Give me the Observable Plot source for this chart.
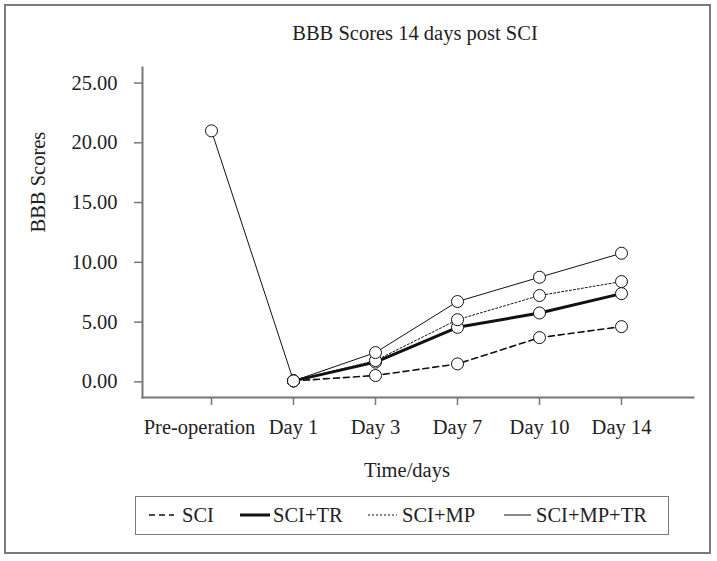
<!DOCTYPE html>
<html>
<head>
<meta charset="utf-8">
<script src="https://cdn.jsdelivr.net/npm/d3@7"></script>
<script src="https://cdn.jsdelivr.net/npm/@observablehq/plot@0.6"></script>
<style>
  html, body { margin: 0; padding: 0; background: #fff; }
  #wrap { position: relative; width: 717px; height: 561px; font-family: "Liberation Serif", "DejaVu Serif", serif; color: #222; }
  #border { position: absolute; left: 4px; top: 4px; width: 707px; height: 550px; border: 2px solid #7a7a7a; box-sizing: border-box; }
  #title { position: absolute; left: 0; width: 830px; top: 20px; text-align: center; font-size: 20.5px; line-height: 26px; }
  #chart { position: absolute; left: 0; top: 0; }
  #legend { position: absolute; left: 135px; top: 496px; width: 534px; height: 39px; border: 1.5px solid #7a7a7a; box-sizing: border-box; }
  .lg-item { position: absolute; top: 0; height: 36px; font-size: 20.5px; line-height: 36px; white-space: nowrap; }
</style>
</head>
<body>
<div id="wrap">
  <div id="border"></div>
  <div id="title"></div>
  <div id="chart"></div>
  <div id="legend"></div>
</div>
<script>
// ---- data ----
const title = "BBB Scores 14 days post SCI";
const yLabel = "BBB Scores";
const xLabel = "Time/days";
const categories = ["Pre-operation", "Day 1", "Day 3", "Day 7", "Day 10", "Day 14"];
const yTicks = [0, 5, 10, 15, 20, 25];
const seriesNames = ["SCI", "SCI+TR", "SCI+MP", "SCI+MP+TR"];
const preOperation = 21.0;           // pre-operation score (drawn with SCI+MP+TR)
const sci      = [0.08, 0.53, 1.50, 3.70, 4.62];
const sciTR    = [0.08, 1.65, 4.56, 5.76, 7.38];
const sciMP    = [0.08, 1.78, 5.20, 7.22, 8.39];
const sciMPTR  = [0.08, 2.45, 6.72, 8.75, 10.76];

// ---- styles ----
const styles = {
  "SCI":       {strokeWidth: 1.6, dash: "6,4"},
  "SCI+TR":    {strokeWidth: 3,   dash: null},
  "SCI+MP":    {strokeWidth: 1,   dash: "2,2"},
  "SCI+MP+TR": {strokeWidth: 1,   dash: null}
};

const valuesBySeries = {"SCI": sci, "SCI+TR": sciTR, "SCI+MP": sciMP, "SCI+MP+TR": sciMPTR};
const rows = [];
for (const s of seriesNames) {
  if (s === "SCI+MP+TR") rows.push({series: s, day: categories[0], value: preOperation});
  valuesBySeries[s].forEach((v, i) => rows.push({series: s, day: categories[i + 1], value: v}));
}

const fontSize = "20.5px";
const axisGray = "#777";

const lineMarks = seriesNames.map(s => Plot.line(rows.filter(r => r.series === s), {
  x: "day", y: "value", stroke: "#111",
  strokeWidth: styles[s].strokeWidth,
  strokeDasharray: styles[s].dash || undefined
}));

const chart = Plot.plot({
  width: 717,
  height: 490,
  marginLeft: 142,
  marginRight: 24,
  marginTop: 67,
  marginBottom: 93,
  style: {fontFamily: '"Liberation Serif", "DejaVu Serif", serif', fontSize, background: "transparent", color: "#222"},
  x: {type: "point", domain: categories, range: [209, 622.5], padding: 0},
  y: {domain: [-1.31, 26.3]},
  marks: [
    Plot.frame({anchor: "left", stroke: axisGray, strokeWidth: 2}),
    Plot.frame({anchor: "bottom", stroke: axisGray, strokeWidth: 2}),
    Plot.axisY({ticks: yTicks, tickFormat: d3.format(".2f"), tickSize: 8, tickPadding: 17, stroke: axisGray, strokeWidth: 1.5, fill: "#222", label: null}),
    Plot.axisX({ticks: categories, tickSize: 8, tickPadding: 14, stroke: axisGray, strokeWidth: 1.5, fill: "#222", label: null,
      tickFormat: d => d === categories[0] ? "" : d}),
    Plot.axisX({ticks: [categories[0]], tickSize: 8, tickPadding: 14, dx: -12, stroke: "none", fill: "#222", label: null}),
    Plot.text([yLabel], {frameAnchor: "left", dx: -104, rotate: -90, text: d => d, fill: "#222"}),
    Plot.text([xLabel], {frameAnchor: "bottom", dy: 79, dx: -11, text: d => d, fill: "#222"}),
    ...lineMarks,
    Plot.dot(rows, {x: "day", y: "value", r: 6, fill: "white", stroke: "#111", strokeWidth: 1})
  ]
});
document.getElementById("chart").appendChild(chart);
document.getElementById("title").textContent = title;

// ---- legend ----
const legendPos = {
  "SCI":       {line: [13, 38], text: 46},
  "SCI+TR":    {line: [104, 134], text: 137},
  "SCI+MP":    {line: [232, 261], text: 266},
  "SCI+MP+TR": {line: [368, 395], text: 400}
};
const legend = document.getElementById("legend");
for (const s of seriesNames) {
  const p = legendPos[s];
  const svg = d3.create("svg").attr("width", 534).attr("height", 36)
    .style("position", "absolute").style("left", "0px").style("top", "0px");
  svg.append("line").attr("x1", p.line[0]).attr("x2", p.line[1]).attr("y1", 18).attr("y2", 18)
    .attr("stroke", "#111").attr("stroke-width", styles[s].strokeWidth)
    .attr("stroke-dasharray", styles[s].dash || null);
  legend.appendChild(svg.node());
  const t = document.createElement("div");
  t.className = "lg-item";
  t.style.left = p.text + "px";
  t.textContent = s;
  legend.appendChild(t);
}
</script>
</body>
</html>
